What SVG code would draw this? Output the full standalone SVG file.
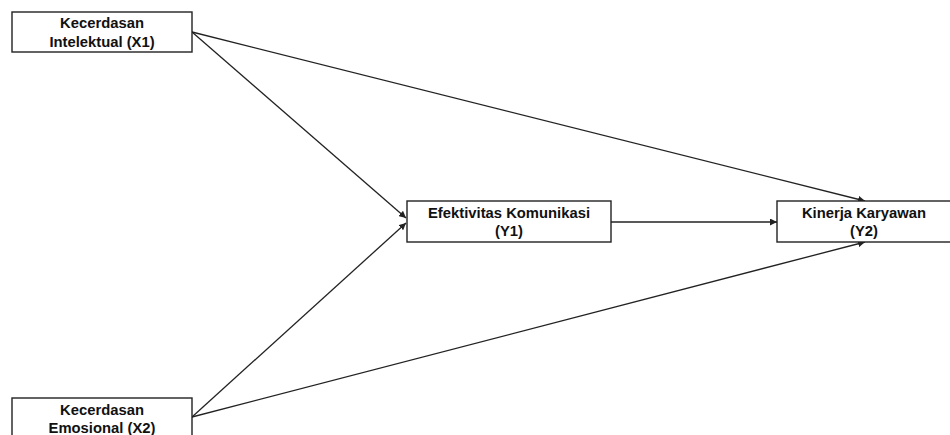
<svg xmlns="http://www.w3.org/2000/svg" width="950" height="435" viewBox="0 0 950 435">
<style>
.box{fill:#fff;stroke:#222;stroke-width:1.4}
.t{font-family:"Liberation Sans",Arial,sans-serif;font-weight:bold;font-size:14.8px;fill:#111;text-anchor:middle}
.c{stroke:#222;stroke-width:1.3;fill:none;marker-end:url(#ah)}
</style>
<defs>
<marker id="ah" viewBox="0 0 10 10" refX="10" refY="5" markerWidth="7" markerHeight="7" markerUnits="userSpaceOnUse" orient="auto">
<path d="M0,0 L10,5 L0,10 Z" fill="#222"/>
</marker>
</defs>
<rect width="950" height="435" fill="#fff"/>
<g id="connectors">
<line class="c" x1="192" y1="32" x2="406" y2="218"/>
<line class="c" x1="192" y1="32" x2="865" y2="201"/>
<line class="c" x1="192" y1="417" x2="406" y2="223"/>
<line class="c" x1="192" y1="417" x2="865" y2="242"/>
<line class="c" x1="611" y1="222" x2="777" y2="222"/>
</g>
<g id="x1">
<rect class="box" x="12" y="12" width="180" height="40"/>
<text class="t" x="102" y="28">Kecerdasan</text>
<text class="t" x="102" y="47">Intelektual (X1)</text>
</g>
<g id="x2">
<rect class="box" x="12" y="398" width="180" height="42"/>
<text class="t" x="102" y="415">Kecerdasan</text>
<text class="t" x="102" y="433">Emosional (X2)</text>
</g>
<g id="y1">
<rect class="box" x="407" y="201" width="204" height="41"/>
<text class="t" x="509" y="218">Efektivitas Komunikasi</text>
<text class="t" x="509" y="236">(Y1)</text>
</g>
<g id="y2">
<rect class="box" x="777" y="201" width="180" height="41"/>
<text class="t" x="864" y="218">Kinerja Karyawan</text>
<text class="t" x="864" y="236">(Y2)</text>
</g>
</svg>
